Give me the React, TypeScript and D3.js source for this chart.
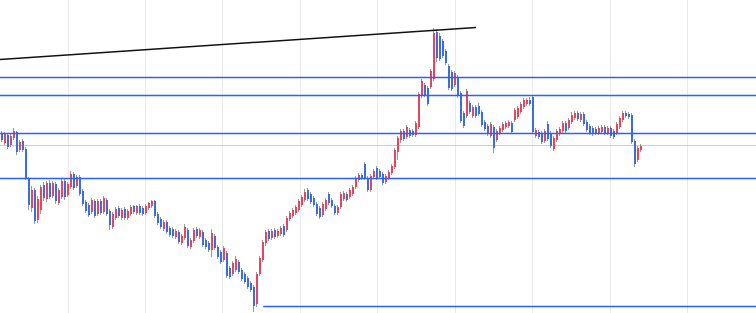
import React from "react";
import * as d3 from "d3";

// [open, high, low, close]
const candles: [number, number, number, number][] = [
  [267, 269, 258, 260], [257, 268, 255, 266], [265, 266, 251, 253], [255, 266, 253, 264],
  [262, 272, 260, 269], [268, 269, 245, 248], [250, 260, 248, 258], [259, 261, 248, 250],
  [251, 253, 220, 222], [221, 223, 190, 195], [192, 214, 188, 210], [210, 212, 176, 179],
  [180, 204, 177, 201], [190, 215, 186, 213], [215, 218, 199, 202], [201, 219, 198, 217],
  [217, 220, 201, 203], [204, 219, 202, 217], [216, 218, 196, 199], [197, 212, 195, 210],
  [203, 222, 201, 219], [219, 221, 200, 203], [205, 218, 203, 216], [213, 229, 211, 226],
  [226, 228, 210, 212], [214, 225, 212, 223], [223, 225, 204, 206], [209, 211, 194, 196],
  [198, 200, 187, 189], [195, 197, 183, 185], [188, 202, 186, 200], [199, 201, 182, 184],
  [186, 201, 184, 199], [199, 201, 185, 187], [188, 204, 186, 202], [200, 202, 184, 186],
  [189, 191, 170, 175], [173, 188, 171, 186], [182, 193, 180, 191], [192, 194, 182, 184],
  [182, 192, 180, 190], [191, 193, 180, 182], [182, 191, 180, 189], [186, 195, 184, 193],
  [194, 195, 186, 188], [187, 195, 185, 194], [194, 196, 185, 187], [192, 194, 184, 186],
  [187, 196, 185, 194], [192, 198, 190, 197], [194, 200, 192, 199], [199, 200, 182, 184],
  [186, 188, 175, 177], [181, 183, 171, 173], [171, 180, 169, 178], [178, 180, 166, 168],
  [172, 174, 163, 165], [171, 173, 162, 164], [163, 171, 161, 169], [168, 170, 156, 158],
  [157, 166, 155, 164], [162, 176, 160, 173], [170, 172, 152, 154], [153, 162, 151, 160],
  [159, 172, 157, 170], [171, 173, 162, 164], [163, 172, 161, 170], [168, 170, 153, 155],
  [160, 162, 151, 153], [157, 159, 148, 150], [150, 171, 143, 167], [164, 166, 150, 152],
  [153, 155, 141, 143], [148, 150, 136, 138], [140, 154, 138, 152], [147, 149, 122, 124],
  [132, 134, 121, 123], [126, 139, 124, 137], [130, 144, 128, 141], [138, 140, 126, 128],
  [130, 132, 119, 121], [126, 128, 116, 118], [122, 124, 111, 113], [117, 119, 108, 110],
  [113, 115, 88, 94], [96, 128, 93, 126], [126, 144, 124, 142], [140, 160, 138, 158],
  [157, 170, 154, 168], [169, 171, 159, 161], [162, 171, 160, 169], [170, 172, 161, 163],
  [164, 171, 162, 169], [166, 174, 164, 172], [174, 176, 163, 165], [170, 184, 168, 182],
  [181, 189, 179, 187], [184, 192, 182, 190], [187, 195, 185, 193], [190, 201, 188, 199],
  [195, 205, 193, 203], [200, 211, 198, 208], [210, 212, 199, 201], [206, 208, 196, 198],
  [202, 204, 193, 195], [196, 198, 184, 186], [192, 194, 181, 183], [185, 198, 183, 196],
  [191, 202, 189, 200], [206, 208, 195, 197], [200, 202, 192, 194], [194, 196, 185, 187],
  [187, 195, 185, 193], [193, 208, 191, 206], [201, 209, 199, 207], [206, 208, 198, 200],
  [203, 212, 201, 210], [206, 215, 204, 213], [213, 224, 211, 222], [220, 227, 218, 225],
  [225, 227, 220, 222], [236, 238, 220, 222], [222, 224, 208, 210], [210, 226, 208, 224],
  [223, 231, 221, 229], [232, 234, 220, 222], [229, 231, 221, 223], [226, 228, 215, 217],
  [218, 226, 216, 224], [222, 230, 220, 228], [227, 236, 225, 234], [233, 252, 231, 250],
  [248, 264, 240, 262], [260, 271, 257, 269], [269, 271, 259, 261], [263, 275, 261, 273],
  [270, 272, 262, 264], [269, 271, 263, 265], [265, 279, 263, 277], [273, 308, 271, 306],
  [304, 321, 302, 319], [315, 317, 303, 305], [312, 314, 294, 296], [313, 331, 311, 329],
  [321, 372, 319, 367], [368, 371, 338, 342], [364, 367, 339, 341], [359, 361, 342, 344],
  [349, 351, 335, 337], [334, 336, 310, 312], [328, 330, 309, 311], [315, 329, 313, 327],
  [323, 325, 302, 304], [307, 309, 277, 279], [287, 289, 272, 274], [284, 311, 282, 309],
  [297, 299, 286, 288], [284, 295, 282, 293], [293, 295, 282, 284], [294, 297, 284, 286],
  [288, 290, 273, 275], [278, 280, 269, 271], [274, 276, 264, 266], [264, 278, 262, 276],
  [273, 275, 247, 252], [260, 271, 258, 269], [267, 274, 265, 272], [270, 278, 268, 276],
  [273, 279, 271, 277], [274, 280, 272, 278], [277, 279, 266, 268], [280, 292, 278, 290],
  [283, 294, 281, 292], [288, 298, 286, 296], [293, 302, 291, 300], [296, 302, 294, 300],
  [300, 303, 294, 296], [303, 305, 266, 268], [264, 272, 262, 270], [268, 270, 261, 263],
  [267, 269, 256, 258], [259, 271, 257, 269], [276, 279, 259, 261], [267, 269, 252, 254],
  [251, 264, 249, 262], [260, 271, 258, 269], [266, 273, 264, 271], [269, 279, 267, 277],
  [277, 279, 267, 269], [272, 282, 270, 280], [278, 288, 276, 285], [282, 289, 280, 287],
  [287, 289, 279, 281], [280, 288, 278, 286], [286, 288, 274, 276], [278, 280, 268, 270],
  [274, 276, 265, 267], [272, 274, 264, 266], [271, 273, 265, 267], [267, 274, 265, 272],
  [268, 275, 266, 273], [273, 275, 265, 267], [267, 274, 265, 272], [272, 274, 262, 264],
  [269, 271, 261, 263], [267, 278, 265, 276], [273, 284, 271, 282], [280, 289, 278, 287],
  [287, 289, 282, 284], [286, 288, 281, 283], [285, 287, 256, 258], [259, 261, 233, 236],
  [240, 254, 238, 252], [250, 256, 248, 254],
];

const levels = [323, 305, 267, 222];
const supportLevel = 94;
const supportStartIdx = 87.4;
const lastPriceLevel = 255;
const trendPoints: [number, number][] = [
  [-0.33, 340.6],
  [158.33, 372.4],
];
const gridIdx = [22.33, 48, 73.67, 99.67, 125.33, 151.33, 177, 203, 228.67];

const W = 756;
const H = 313;
const UP = "#e5455d";
const DOWN = "#3a6ee0";
const WICK = "#9a9a9a";
const LEVEL = "#2962ff";

export default function App() {
  const x = d3.scaleLinear().domain([0, candles.length - 1]).range([1, 640]);
  const y = d3.scaleLinear().domain([87, 400]).range([H, 0]);
  const line = d3
    .line<[number, number]>()
    .x((d) => x(d[0]))
    .y((d) => y(d[1]));
  const crisp = (v: number) => Math.round(v) + 0.5;

  return (
    <svg
      width={W}
      height={H}
      style={{ position: "fixed", left: 0, top: 0, display: "block", background: "#fff" }}
    >
      <rect x={0} y={0} width={W} height={H} fill="#fff" />
      {gridIdx.map((g, i) => (
        <line
          key={"g" + i}
          x1={crisp(x(g))}
          x2={crisp(x(g))}
          y1={0}
          y2={H}
          stroke="#ebebeb"
          strokeWidth={1}
        />
      ))}
      <line
        x1={0}
        x2={W}
        y1={crisp(y(lastPriceLevel))}
        y2={crisp(y(lastPriceLevel))}
        stroke="#f5bcbc"
        strokeWidth={1}
      />
      {candles.map((c, i) => {
        const [o, h, l, cl] = c;
        const cx = Math.round(x(i));
        const up = cl >= o;
        const top = y(Math.max(o, cl));
        const bot = y(Math.min(o, cl));
        return (
          <g key={i}>
            <rect x={cx} y={y(h)} width={1} height={Math.max(1, y(l) - y(h))} fill={WICK} />
            <rect
              x={cx}
              y={top}
              width={2}
              height={Math.max(1, bot - top)}
              fill={up ? UP : DOWN}
            />
          </g>
        );
      })}
      {levels.map((lv, i) => (
        <line
          key={"l" + i}
          x1={0}
          x2={W}
          y1={crisp(y(lv))}
          y2={crisp(y(lv))}
          stroke={LEVEL}
          strokeWidth={1.4}
        />
      ))}
      <line
        x1={x(supportStartIdx)}
        x2={W}
        y1={crisp(y(supportLevel))}
        y2={crisp(y(supportLevel))}
        stroke={LEVEL}
        strokeWidth={1.4}
      />
      <path d={line(trendPoints) || ""} fill="none" stroke="#111" strokeWidth={1.5} />
    </svg>
  );
}
